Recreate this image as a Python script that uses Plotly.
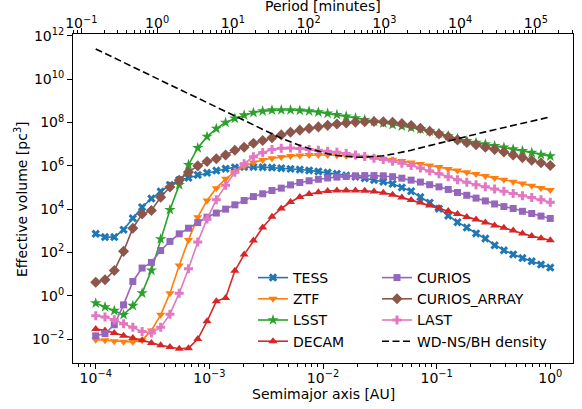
import numpy as np
import plotly.graph_objects as go

# semimajor axis grid [AU]
semimajor_au = np.logspace(-4, 0, 50)

# log10 of effective volume [pc^3]
tess_log = [2.86, 2.71, 2.71, 3.05, 3.58, 4.09, 4.49, 4.82, 5.12, 5.35,
            5.45, 5.58, 5.68, 5.78, 5.87, 5.93, 5.95, 5.95, 5.94, 5.92,
            5.89, 5.86, 5.83, 5.79, 5.74, 5.69, 5.63, 5.56, 5.50, 5.43,
            5.35, 5.27, 5.17, 5.00, 4.83, 4.56, 4.30, 4.02, 3.70, 3.40,
            3.15, 2.88, 2.64, 2.33, 2.10, 1.91, 1.74, 1.59, 1.44, 1.30]
ztf_log = [-2.03, -2.06, -2.10, -2.12, -2.13, -2.05, -1.60, -0.88, 0.12, 1.40,
           2.58, 3.63, 4.40, 4.97, 5.40, 5.72, 5.98, 6.15, 6.27, 6.35,
           6.41, 6.45, 6.48, 6.50, 6.50, 6.50, 6.49, 6.47, 6.45, 6.42,
           6.38, 6.33, 6.28, 6.22, 6.16, 6.09, 6.02, 5.95, 5.86, 5.78,
           5.70, 5.62, 5.53, 5.44, 5.36, 5.27, 5.18, 5.08, 4.98, 4.88]
lsst_log = [-0.34, -0.52, -0.69, -0.88, -0.46, 0.12, 1.17, 2.62, 3.97, 5.12,
            6.05, 6.83, 7.35, 7.72, 8.00, 8.19, 8.34, 8.46, 8.53, 8.57,
            8.58, 8.58, 8.56, 8.53, 8.48, 8.42, 8.36, 8.29, 8.21, 8.13,
            8.05, 7.97, 7.90, 7.83, 7.76, 7.69, 7.60, 7.50, 7.38, 7.25,
            7.15, 7.07, 7.00, 6.92, 6.85, 6.77, 6.69, 6.61, 6.52, 6.45]
decam_log = [-1.54, -1.60, -1.72, -1.85, -1.95, -2.06, -2.18, -2.29, -2.37, -2.45,
             -2.42, -2.00, -1.18, -0.25, -0.10, 1.15, 1.90, 2.55, 3.15, 3.65,
             4.03, 4.33, 4.56, 4.70, 4.78, 4.84, 4.86, 4.86, 4.86, 4.85,
             4.81, 4.76, 4.67, 4.54, 4.42, 4.31, 4.17, 4.05, 3.92, 3.78,
             3.64, 3.52, 3.38, 3.24, 3.14, 3.01, 2.88, 2.76, 2.66, 2.56]
curios_log = [-1.85, -1.75, -1.34, -0.42, 0.66, 1.28, 1.54, 2.09, 2.51, 2.86,
              3.12, 3.38, 3.63, 3.82, 4.00, 4.20, 4.40, 4.58, 4.71, 4.86,
              4.97, 5.12, 5.23, 5.31, 5.38, 5.44, 5.48, 5.51, 5.54, 5.55,
              5.55, 5.54, 5.50, 5.43, 5.34, 5.25, 5.13, 5.03, 4.91, 4.77,
              4.64, 4.51, 4.38, 4.24, 4.12, 4.03, 3.90, 3.80, 3.68, 3.57]
curios_array_log = [0.62, 0.74, 1.17, 2.05, 3.12, 3.78, 3.94, 4.55, 5.02, 5.33,
                    5.72, 6.00, 6.20, 6.33, 6.50, 6.72, 6.86, 7.04, 7.17, 7.30,
                    7.43, 7.55, 7.65, 7.73, 7.80, 7.87, 7.93, 7.98, 8.02, 8.04,
                    8.05, 8.04, 8.01, 7.95, 7.86, 7.74, 7.60, 7.47, 7.34, 7.20,
                    7.08, 6.98, 6.86, 6.76, 6.64, 6.50, 6.38, 6.26, 6.14, 6.02]
last_log = [-0.92, -0.98, -1.11, -1.29, -1.46, -1.65, -1.72, -1.46, -0.85, 0.12,
            1.25, 2.48, 3.55, 4.43, 5.10, 5.70, 6.10, 6.42, 6.62, 6.75,
            6.81, 6.82, 6.80, 6.76, 6.72, 6.68, 6.63, 6.57, 6.50, 6.43,
            6.35, 6.29, 6.21, 6.12, 6.02, 5.90, 5.76, 5.63, 5.50, 5.36,
            5.24, 5.13, 5.03, 4.93, 4.83, 4.72, 4.62, 4.54, 4.44, 4.32]
density_log = [11.40, 11.19, 10.98, 10.78, 10.57, 10.36, 10.16, 9.95, 9.75, 9.54,
               9.33, 9.13, 8.92, 8.72, 8.51, 8.30, 8.09, 7.89, 7.68, 7.48,
               7.28, 7.10, 6.94, 6.80, 6.67, 6.56, 6.48, 6.43, 6.40, 6.40,
               6.42, 6.47, 6.54, 6.62, 6.72, 6.83, 6.94, 7.05, 7.16, 7.27,
               7.37, 7.47, 7.57, 7.67, 7.77, 7.87, 7.96, 8.06, 8.16, 8.26]

series_names = ["TESS", "ZTF", "LSST", "DECAM", "CURIOS", "CURIOS_ARRAY", "LAST"]
series_logs = [tess_log, ztf_log, lsst_log, decam_log, curios_log, curios_array_log, last_log]
series_colors = ["#1f77b4", "#ff7f0e", "#2ca02c", "#d62728", "#9467bd", "#8c564b", "#e377c2"]
series_symbols = ["x", "triangle-down", "star", "triangle-up", "square", "diamond", "cross"]
series_sizes = [7.5, 8, 8.5, 8, 7, 8.5, 7.5]

# tick exponents
x_exponents = [-4, -3, -2, -1, 0]
period_exponents = [-1, 0, 1, 2, 3, 4, 5]
y_exponents = [-2, 0, 2, 4, 6, 8, 10, 12]
# period axis range (log10 minutes) matching the semimajor axis range
period_range_log = [-1.11, 5.49]


def pow_label(e):
    return "10<sup>" + (str(e) if e >= 0 else "\u2212" + str(-e)) + "</sup>"


def minor_vals(lo, hi):
    return [d * 10.0 ** e for e in range(lo, hi) for d in range(2, 10)]


FONT = "DejaVu Sans"
L, R, T, B = 73, 9, 34, 46
W, H = 582, 409
PW, PH = W - L - R, H - T - B


def px_x(px):
    return (px - L) / PW


def px_y(py):
    return (H - B - py) / PH


fig = go.Figure()

for k, (name, vals, col, sym, sz) in enumerate(zip(series_names, series_logs, series_colors,
                                                   series_symbols, series_sizes)):
    fig.add_trace(go.Scatter(
        x=semimajor_au, y=10 ** np.array(vals), name=name, mode="lines+markers",
        line=dict(color=col, width=1.6),
        marker=dict(symbol=sym, size=sz, color=col, line=dict(width=0)),
        legend="legend" if k < 4 else "legend2",
    ))

fig.add_trace(go.Scatter(
    x=semimajor_au, y=10 ** np.array(density_log), name="WD-NS/BH density", mode="lines",
    line=dict(color="black", width=1.6, dash="7px,3.5px"), legend="legend2",
))

# dummy trace so the top (period) axis is drawn
fig.add_trace(go.Scatter(
    x=[10 ** period_range_log[0], 10 ** period_range_log[1]], y=[1, 1], xaxis="x2",
    mode="lines", line=dict(width=0, color="rgba(0,0,0,0)"), showlegend=False, hoverinfo="skip",
))

axis_font = dict(family=FONT, size=14, color="black")
common = dict(showline=True, linecolor="black", linewidth=1,
              ticks="outside", ticklen=5, tickwidth=1, tickcolor="black",
              showgrid=False, zeroline=False, tickfont=axis_font, automargin=False)

fig.update_layout(
    width=W, height=H,
    margin=dict(l=L, r=R, t=T, b=B),
    paper_bgcolor="white", plot_bgcolor="white",
    font=dict(family=FONT, size=14, color="black"),
    xaxis=dict(
        type="log", range=[-4.2, 0.2], mirror=False,
        tickmode="array", tickvals=[10.0 ** e for e in x_exponents],
        ticktext=[pow_label(e) for e in x_exponents], ticklabelstandoff=-3,
        minor=dict(ticks="outside", ticklen=3, tickcolor="black", showgrid=False,
                   tickvals=minor_vals(-5, 1)),
        **common,
    ),
    xaxis2=dict(
        type="log", range=period_range_log, overlaying="x", side="top", anchor="y",
        tickmode="array", tickvals=[10.0 ** e for e in period_exponents],
        ticktext=[pow_label(e) for e in period_exponents], ticklabelstandoff=-6,
        minor=dict(ticks="outside", ticklen=3, tickcolor="black", showgrid=False,
                   tickvals=minor_vals(-2, 6)),
        **common,
    ),
    yaxis=dict(
        type="log", range=[-3.106, 12.09], mirror=True,
        tickmode="array", tickvals=[10.0 ** e for e in y_exponents],
        ticktext=[pow_label(e) for e in y_exponents],
        **common,
    ),
    legend=dict(
        x=px_x(253), y=px_y(262), xanchor="left", yanchor="top",
        bgcolor="rgba(0,0,0,0)", borderwidth=0, font=axis_font,
        tracegroupgap=0, itemwidth=30,
    ),
    legend2=dict(
        x=px_x(377), y=px_y(262), xanchor="left", yanchor="top",
        bgcolor="rgba(0,0,0,0)", borderwidth=0, font=axis_font,
        tracegroupgap=0, itemwidth=30,
    ),
    showlegend=True,
    annotations=[
        dict(text="Semimajor axis [AU]", x=px_x(323), y=px_y(394),
             xref="paper", yref="paper", showarrow=False, font=axis_font,
             xanchor="center", yanchor="middle"),
        dict(text="Period [minutes]", x=px_x(323), y=px_y(6.5),
             xref="paper", yref="paper", showarrow=False, font=axis_font,
             xanchor="center", yanchor="middle"),
        dict(text="Effective volume [pc<sup>3</sup>]", x=px_x(21), y=px_y(199),
             xref="paper", yref="paper", showarrow=False, font=axis_font,
             textangle=-90, xanchor="center", yanchor="middle"),
    ],
)

# remove the browser's default page margin so the figure starts at the window corner
fig.write_html("out.html", config={"displayModeBar": False},
               post_script="document.body.style.margin='0px';")
